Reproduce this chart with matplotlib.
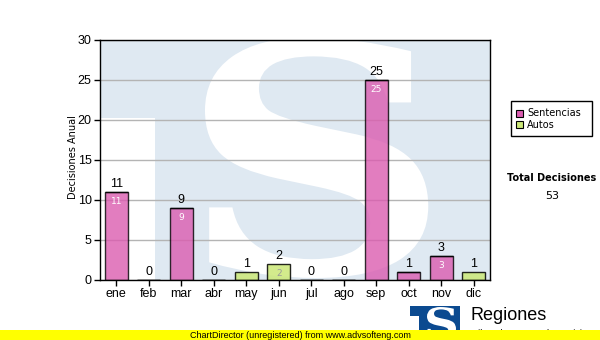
import matplotlib.pyplot as plt
import numpy as np
from matplotlib.textpath import TextPath
from matplotlib.patches import PathPatch, Rectangle
from matplotlib.font_manager import FontProperties
from matplotlib.transforms import Affine2D


months = ["ene", "feb", "mar", "abr", "may", "jun", "jul", "ago", "sep", "oct", "nov", "dic"]
sentencias = [11, 0, 9, 0, 0, 0, 0, 0, 25, 1, 3, 0]
autos = [0, 0, 0, 0, 1, 2, 0, 0, 0, 0, 0, 1]
totales = [s + a for s, a in zip(sentencias, autos)]
totalDecisiones = sum(totales)

pink = (0.86, 0.36, 0.69)
green = (0.80, 0.91, 0.47)
wmBlue = "#dfe9f2"


def letterPatch(ax, letter, box, color, zorder, family="DejaVu Serif"):
    """
    Draws a letter stretched to fill a box (x0, y0, x1, y1)
    """
    tp = TextPath((0, 0), letter, size=100, prop=FontProperties(family=family, weight="bold"))
    ext = tp.get_extents()
    x0, y0, x1, y1 = box
    tr = Affine2D().translate(-ext.x0, -ext.y0).scale((x1 - x0) / ext.width, (y1 - y0) / ext.height).translate(x0, y0)
    patch = PathPatch(tr.transform_path(tp), facecolor=color, edgecolor="none", zorder=zorder,
                      transform=ax.transData, clip_on=True)
    ax.add_patch(patch)
    return patch


fig = plt.figure(figsize=(6, 3.4), dpi=100)
ax = fig.add_axes([100 / 600, 60 / 340, 390 / 600, 240 / 340])
x = np.arange(len(months))

# watermark logo
ax.set_facecolor(wmBlue)
ax.add_patch(Rectangle((-0.5, 0), 1.69, 20.25, facecolor="white", edgecolor="none", zorder=0))
letterPatch(ax, "S", (2.73, 0.25, 9.6, 30.3), "white", 0.5)

# grid
ax.set_axisbelow(True)
ax.yaxis.grid(True, color="#b4b4b4", linewidth=1)

# bars
ax.bar(x, sentencias, width=0.72, color=pink, alpha=0.8, edgecolor="black", linewidth=1, zorder=2)
ax.bar(x, autos, width=0.72, bottom=sentencias, color=green, alpha=0.85, edgecolor="black", linewidth=1, zorder=2)
for i in range(len(months)):
    ax.text(x[i], totales[i] + 0.2, str(totales[i]), ha="center", va="bottom", fontsize=9,
            family="Liberation Sans", zorder=3)
    if sentencias[i] >= 2:
        ax.text(x[i], sentencias[i] - 0.6, str(sentencias[i]), ha="center", va="top", fontsize=6.5,
                color="white", family="DejaVu Sans", zorder=3)
    if autos[i] >= 2:
        ax.text(x[i], sentencias[i] + autos[i] - 0.6, str(autos[i]), ha="center", va="top", fontsize=6.5,
                color="#9a9a9a", family="DejaVu Sans", zorder=3)

# axes
ax.set_xlim(-0.5, 11.5)
ax.set_ylim(0, 30)
ax.set_xticks(x)
ax.set_xticklabels(months, family="Liberation Sans", fontsize=9)
ax.set_yticks(np.arange(0, 31, 5))
ax.set_yticklabels([str(v) for v in range(0, 31, 5)], family="Liberation Sans", fontsize=9)
ax.tick_params(length=4, width=1, pad=2)
for s in ax.spines.values():
    s.set_linewidth(1)
fig.text(73 / 600, 1 - 157 / 340, "Decisiones Anual", rotation=90, ha="center", va="center",
         fontsize=7, family="DejaVu Sans")

# legend box
fig.patches.append(Rectangle((511 / 600, 1 - 136 / 340), 81 / 600, 35 / 340, transform=fig.transFigure,
                             facecolor="white", edgecolor="black", linewidth=1))
for lab, col, yy in [("Sentencias", pink, 113.5), ("Autos", green, 124.5)]:
    fig.patches.append(Rectangle((516 / 600, 1 - (yy + 3.5) / 340), 7 / 600, 7 / 340, transform=fig.transFigure,
                                 facecolor=col, edgecolor="black", linewidth=0.8))
    fig.text(527 / 600, 1 - yy / 340, lab, ha="left", va="center", fontsize=7, family="DejaVu Sans")

fig.text(552 / 600, 1 - 178 / 340, "Total Decisiones", ha="center", va="center", fontsize=7,
         weight="bold", family="DejaVu Sans")
fig.text(552 / 600, 1 - 196 / 340, str(totalDecisiones), ha="center", va="center", fontsize=8,
         family="DejaVu Sans")

# bottom logo
lax = fig.add_axes([410 / 600, 0, 50 / 600, 34 / 340])
lax.set_xlim(0, 50)
lax.set_ylim(0, 34)
lax.axis("off")
lax.add_patch(Rectangle((0, 0), 50, 34, facecolor="#0b4a90", edgecolor="none"))
lax.add_patch(Rectangle((0, 0), 9, 24, facecolor="white", edgecolor="none"))
letterPatch(lax, "S", (17, 2, 46, 33), "white", 3)
fig.text(470 / 600, 1 - 316 / 340, "Regiones", ha="left", va="center", fontsize=13, family="Liberation Sans")
fig.text(470 / 600, 1 - 333 / 340, "Tribunal Supremo de Justicia", ha="left", va="center", fontsize=6.5,
         family="Liberation Sans")

# unregistered banner
fig.patches.append(Rectangle((0, 0), 1, 10 / 340, transform=fig.transFigure, facecolor="#ffff00",
                             edgecolor="none", zorder=10))
fig.text(190 / 600, 5 / 340, "ChartDirector (unregistered) from www.advsofteng.com", ha="left", va="center",
         fontsize=6.5, family="Liberation Sans", zorder=11)

plt.savefig("out.png", dpi=100)
